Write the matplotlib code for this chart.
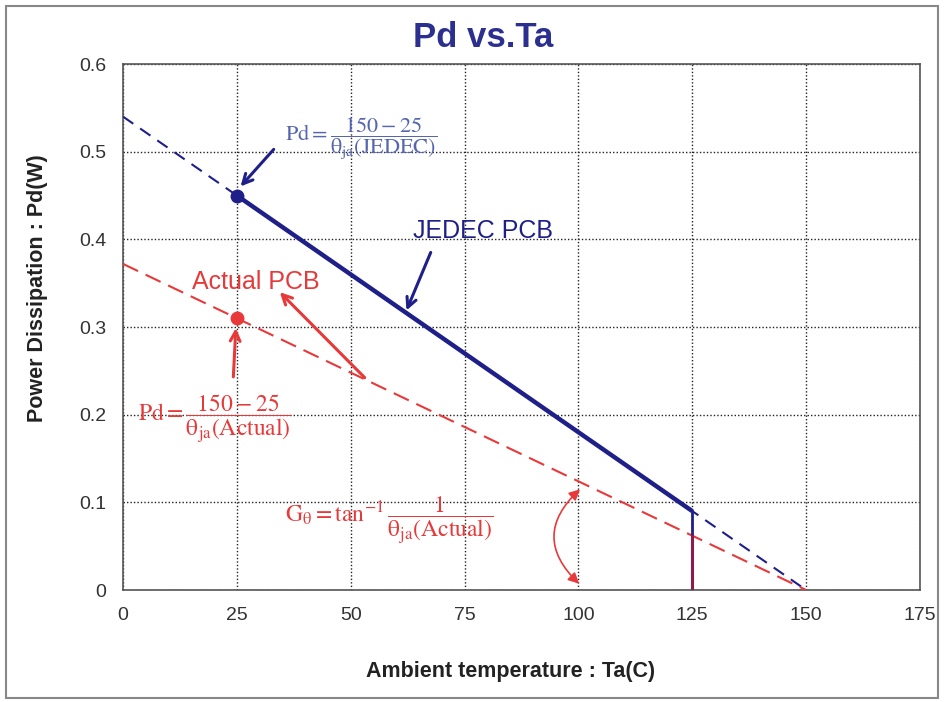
import matplotlib.pyplot as plt
from matplotlib.patches import Rectangle

plt.rcParams['font.family'] = ['Liberation Sans', 'DejaVu Sans']

# data
ta_ticks = [0, 25, 50, 75, 100, 125, 150, 175]
pd_ticks = [0, 0.1, 0.2, 0.3, 0.4, 0.5, 0.6]
pd_tick_labels = ['0', '0.1', '0.2', '0.3', '0.4', '0.5', '0.6']

ta_dash = [0, 150]
pd_jedec_dash = [0.54, 0.0]
pd_actual_dash = [0.372, 0.0]

ta_solid = [25, 125]
pd_jedec_solid = [0.45, 0.09]

ta_point = 25
pd_jedec_point = 0.45
pd_actual_point = 0.31

ta_max = 125
pd_actual_max = 0.062

navy = '#1f1f8a'
red = '#e8393a'
formula_blue = '#5565b0'

fig = plt.figure(figsize=(9.44, 7.02), dpi=100)
ax = fig.add_axes([0.1303, 0.1595, 0.8443, 0.7493])

# lines
ax.plot(ta_dash, pd_jedec_dash, color=navy, lw=1.5, ls=(0, (6, 4)), zorder=3)
ax.plot(ta_dash, pd_actual_dash, color=red, lw=1.5, ls=(0, (8, 4)), zorder=3)
ax.plot(ta_solid, pd_jedec_solid, color=navy, lw=3.2, solid_capstyle='butt', zorder=4)
ax.plot([ta_max, ta_max], [pd_actual_max, pd_jedec_solid[1]], color=navy, lw=2, zorder=4)
ax.plot([ta_max, ta_max], [0, pd_actual_max], color='#8a1d4a', lw=2.2, zorder=4)
ax.plot([ta_point], [pd_jedec_point], 'o', color=navy, ms=9, zorder=5)
ax.plot([ta_point], [pd_actual_point], 'o', color=red, ms=9, zorder=5)

# arrows
head = '->,head_length=0.7,head_width=0.35'
ax.annotate('', xy=(25.4, 0.458), xytext=(33.5, 0.505),
            arrowprops=dict(arrowstyle=head, color=navy, lw=2.2))
ax.annotate('', xy=(62.0, 0.316), xytext=(67.8, 0.388),
            arrowprops=dict(arrowstyle=head, color=navy, lw=2.2))
ax.annotate('', xy=(34.0, 0.342), xytext=(53.5, 0.24),
            arrowprops=dict(arrowstyle=head, color=red, lw=2.2))
ax.annotate('', xy=(24.8, 0.302), xytext=(24.2, 0.24),
            arrowprops=dict(arrowstyle=head, color=red, lw=2.2))
ax.annotate('', xy=(100.8, 0.117), xytext=(100.6, 0.005),
            arrowprops=dict(arrowstyle='<|-|>', color=red, lw=1.2, mutation_scale=16,
                            connectionstyle='arc3,rad=-0.55'))

# texts
ax.text(63.6, 0.41, 'JEDEC PCB', color=navy, fontsize=18, ha='left', va='center')
ax.text(15.2, 0.351, 'Actual PCB', color=red, fontsize=18, ha='left', va='center')
ax.text(35.6, 0.515, r'$\mathrm{Pd} = \dfrac{150-25}{\mathrm{θ}_{\mathrm{ja}}(\mathrm{JEDEC})}$',
        color=formula_blue, fontsize=16, ha='left', va='center', math_fontfamily='stix')
ax.text(3.3, 0.195, r'$\mathrm{Pd} = \dfrac{150-25}{\mathrm{θ}_{\mathrm{ja}}(\mathrm{Actual})}$',
        color=red, fontsize=17, ha='left', va='center', math_fontfamily='stix')
ax.text(35.6, 0.079, r'$\mathrm{G}_{\mathrm{θ}} = \mathrm{tan}^{-1}\,\dfrac{1}{\mathrm{θ}_{\mathrm{ja}}(\mathrm{Actual})}$',
        color=red, fontsize=17, ha='left', va='center', math_fontfamily='stix')

ax.set_xlim(0, 175)
ax.set_ylim(0, 0.6)
ax.set_xticks(ta_ticks)
ax.set_yticks(pd_ticks)
ax.set_yticklabels(pd_tick_labels)
ax.tick_params(length=0, labelsize=14, labelcolor='#333333', pad=12)
ax.grid(True, color='#222222', ls=(0, (1, 1.5)), lw=1)
for s in ax.spines.values():
    s.set_color('#555555')
    s.set_linewidth(1.2)

fig.text(0.512, 0.947, 'Pd vs.Ta', color='#2b2f8f', fontsize=25, fontweight='bold',
         ha='center', va='center')
fig.text(0.541, 0.043, 'Ambient temperature : Ta(C)', fontsize=15.5, fontweight='bold',
         color='#222222', ha='center', va='center')
fig.text(0.040, 0.59, 'Power Dissipation : Pd(W)', fontsize=15.5, fontweight='bold',
         color='#222222', ha='center', va='center', rotation=90)

# outer frame
fig.patches.append(Rectangle((0.006, 0.006), 0.988, 0.985, transform=fig.transFigure,
                             fill=False, edgecolor='#888888', lw=1.5))

fig.savefig('out.png', dpi=100)
